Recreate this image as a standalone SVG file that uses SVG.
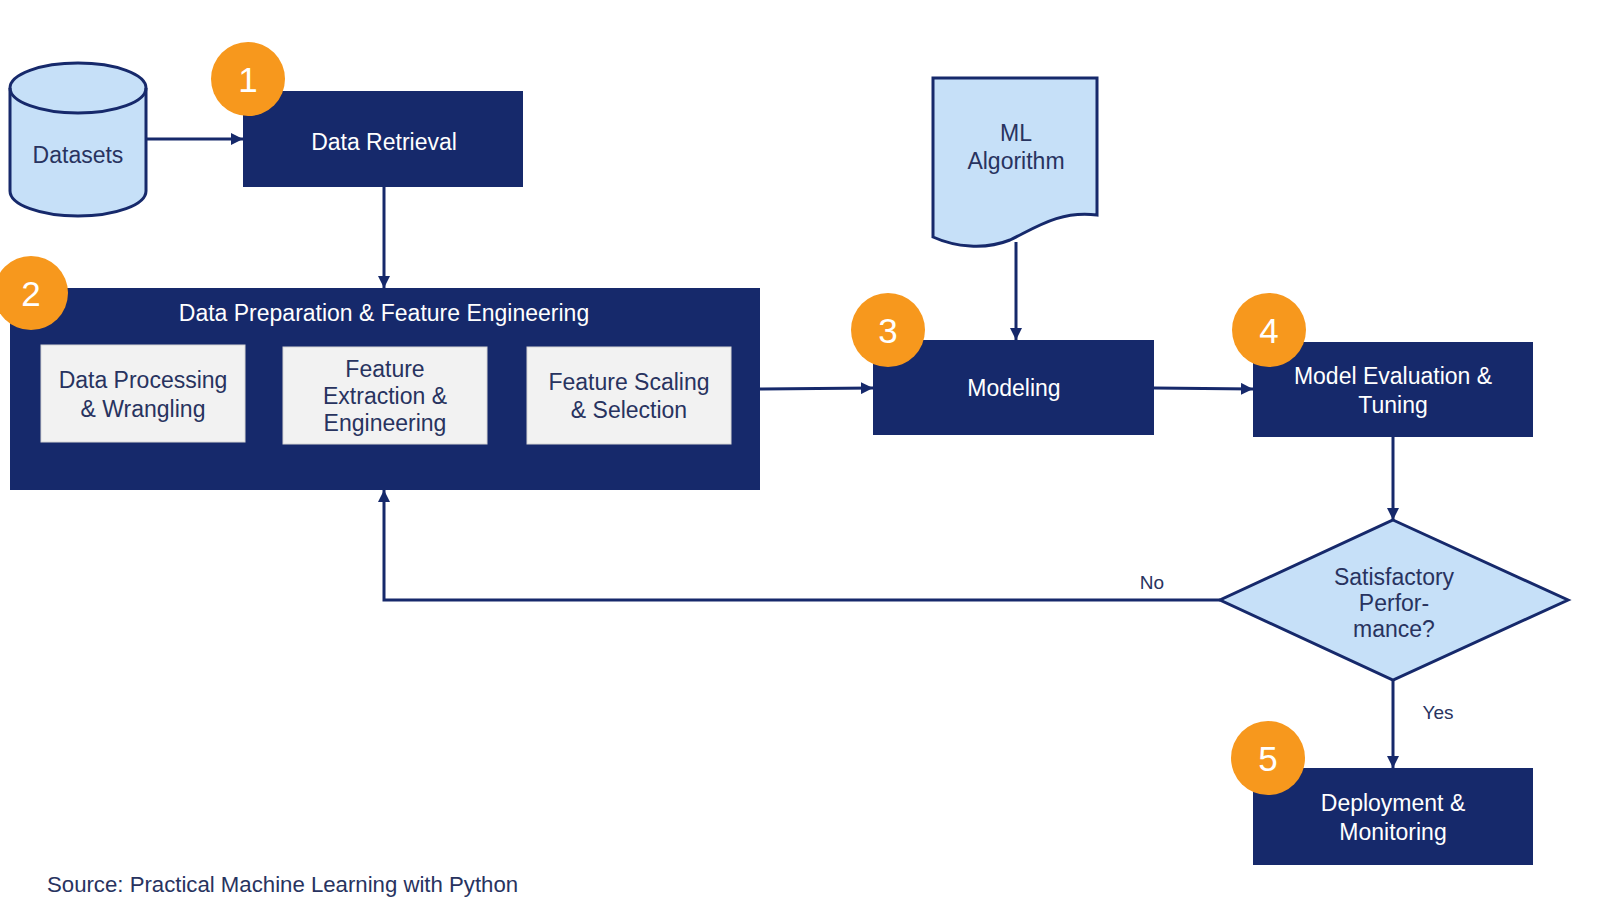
<svg xmlns="http://www.w3.org/2000/svg" width="1614" height="906" viewBox="0 0 1614 906">
<style>
  .navy{fill:#16296b;}
  .light{fill:#c6e0f8;stroke:#16296b;stroke-width:3;}
  .sub{fill:#f2f2f2;stroke:#d6d6d6;stroke-width:1;}
  .badge{fill:#f7981d;}
  .wt{font-family:"Liberation Sans",Arial,sans-serif;font-size:23px;fill:#ffffff;text-anchor:middle;dominant-baseline:central;}
  .dt{font-family:"Liberation Sans",Arial,sans-serif;font-size:23px;fill:#28335f;text-anchor:middle;dominant-baseline:central;}
  .num{font-family:"Liberation Sans",Arial,sans-serif;font-size:35px;fill:#ffffff;text-anchor:middle;dominant-baseline:central;}
  .lbl{font-family:"Liberation Sans",Arial,sans-serif;font-size:19px;fill:#28335f;text-anchor:middle;dominant-baseline:central;}
  .conn{fill:none;stroke:#16296b;stroke-width:3;}
</style>
<defs>
  <marker id="arr" viewBox="0 0 10 10" refX="10" refY="5" markerWidth="12" markerHeight="12" markerUnits="userSpaceOnUse" orient="auto">
    <path d="M0,0 L10,5 L0,10 z" fill="#16296b"/>
  </marker>
</defs>
<rect x="0" y="0" width="1614" height="906" fill="#ffffff"/>

<g id="datasets">
  <path class="light" d="M10,88 A68,25 0 0 1 146,88 V191 A68,25 0 0 1 10,191 Z"/>
  <path fill="none" stroke="#16296b" stroke-width="3" d="M10,88 A68,25 0 0 0 146,88"/>
  <text class="dt" x="78" y="155">Datasets</text>
</g>

<g id="data-retrieval">
  <rect class="navy" x="243" y="91" width="280" height="96"/>
  <text class="wt" x="384" y="142">Data Retrieval</text>
  <circle class="badge" cx="248" cy="79" r="37"/>
  <text class="num" x="248" y="79">1</text>
</g>

<g id="data-preparation">
  <rect class="navy" x="10" y="288" width="750" height="202"/>
  <text class="wt" x="384" y="313">Data Preparation &amp; Feature Engineering</text>
  <circle class="badge" cx="31" cy="293" r="37"/>
  <text class="num" x="31" y="293">2</text>
  <g id="data-processing">
    <rect class="sub" x="41" y="345" width="204" height="97"/>
    <text class="dt" x="143" y="380">Data Processing</text>
    <text class="dt" x="143" y="409">&amp; Wrangling</text>
  </g>
  <g id="feature-extraction">
    <rect class="sub" x="283" y="347" width="204" height="97"/>
    <text class="dt" x="385" y="369">Feature</text>
    <text class="dt" x="385" y="396">Extraction &amp;</text>
    <text class="dt" x="385" y="423">Engineering</text>
  </g>
  <g id="feature-scaling">
    <rect class="sub" x="527" y="347" width="204" height="97"/>
    <text class="dt" x="629" y="382">Feature Scaling</text>
    <text class="dt" x="629" y="410">&amp; Selection</text>
  </g>
</g>

<g id="ml-algorithm">
  <path class="light" d="M933,78 H1097 V215 C1060,210 1035,228 1010,240 C985,250 955,247 933,237 Z"/>
  <text class="dt" x="1016" y="133">ML</text>
  <text class="dt" x="1016" y="161">Algorithm</text>
</g>

<g id="modeling">
  <rect class="navy" x="873" y="340" width="281" height="95"/>
  <text class="wt" x="1014" y="388">Modeling</text>
  <circle class="badge" cx="888" cy="330" r="37"/>
  <text class="num" x="888" y="330">3</text>
</g>

<g id="model-evaluation">
  <rect class="navy" x="1253" y="342" width="280" height="95"/>
  <text class="wt" x="1393" y="376">Model Evaluation &amp;</text>
  <text class="wt" x="1393" y="405">Tuning</text>
  <circle class="badge" cx="1269" cy="330" r="37"/>
  <text class="num" x="1269" y="330">4</text>
</g>

<g id="satisfactory">
  <path class="light" d="M1393,520 L1568,600 L1393,680 L1220,600 Z"/>
  <text class="dt" x="1394" y="577" font-size="22">Satisfactory</text>
  <text class="dt" x="1394" y="603" font-size="22">Perfor-</text>
  <text class="dt" x="1394" y="629" font-size="22">mance?</text>
</g>

<g id="deployment">
  <rect class="navy" x="1253" y="768" width="280" height="97"/>
  <text class="wt" x="1393" y="803">Deployment &amp;</text>
  <text class="wt" x="1393" y="832">Monitoring</text>
  <circle class="badge" cx="1268" cy="758" r="37"/>
  <text class="num" x="1268" y="758">5</text>
</g>

<g id="connectors">
  <line class="conn" x1="146" y1="139" x2="243" y2="139" marker-end="url(#arr)"/>
  <line class="conn" x1="384" y1="187" x2="384" y2="288" marker-end="url(#arr)"/>
  <line class="conn" x1="760" y1="389" x2="873" y2="388" marker-end="url(#arr)"/>
  <line class="conn" x1="1016" y1="242" x2="1016" y2="340" marker-end="url(#arr)"/>
  <line class="conn" x1="1154" y1="388" x2="1253" y2="389" marker-end="url(#arr)"/>
  <line class="conn" x1="1393" y1="437" x2="1393" y2="520" marker-end="url(#arr)"/>
  <polyline class="conn" points="1220,600 384,600 384,490" marker-end="url(#arr)"/>
  <line class="conn" x1="1393" y1="680" x2="1393" y2="768" marker-end="url(#arr)"/>
  <text class="lbl" x="1152" y="582">No</text>
  <text class="lbl" x="1438" y="712">Yes</text>
</g>

<text x="47" y="884" font-family="'Liberation Sans',Arial,sans-serif" font-size="22.2" fill="#28335f" dominant-baseline="central">Source: Practical Machine Learning with Python</text>
</svg>
